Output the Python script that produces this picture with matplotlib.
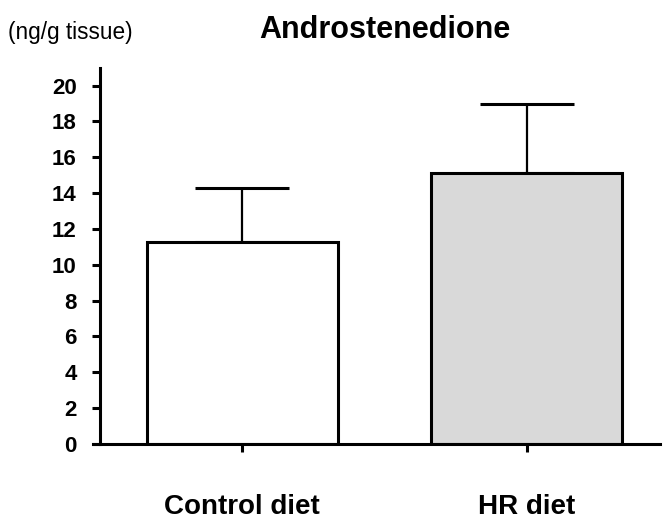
import matplotlib.pyplot as plt

categories = ["Control diet", "HR diet"]
means = [11.25, 15.15]
errors = [3.05, 3.85]
bar_colors = ["white", "#d9d9d9"]
yticks = [0, 2, 4, 6, 8, 10, 12, 14, 16, 18, 20]


def main() -> None:
    plt.rcParams["font.family"] = ["Liberation Sans", "DejaVu Sans"]
    fig = plt.figure(figsize=(6.63, 5.21), dpi=100)
    ax = fig.add_axes([0.151, 0.148, 0.845, 0.722])

    x = list(range(len(categories)))
    ax.bar(x, means, width=0.67, color=bar_colors, edgecolor="black",
           linewidth=2.2, zorder=2)
    ax.errorbar(x, means, yerr=[[0] * len(errors), errors], fmt="none",
                ecolor="black", elinewidth=1.6, capsize=34, capthick=2.2,
                zorder=1)

    ax.set_xlim(-0.5, 1.47)
    ax.set_ylim(0, 21)
    ax.set_yticks(yticks)
    ax.set_xticks(x)
    ax.set_xticklabels(categories, fontsize=20, fontweight="bold")
    for lab in ax.get_yticklabels():
        lab.set_fontweight("bold")
        lab.set_fontsize(16)

    ax.spines["top"].set_visible(False)
    ax.spines["right"].set_visible(False)
    ax.spines["bottom"].set_visible(False)
    ax.spines["left"].set_linewidth(2.2)
    # x axis line runs a little past the y axis on the left
    ax.plot([-0.525, 1.47], [0, 0], color="black", linewidth=2.2,
            clip_on=False, zorder=3)

    ax.tick_params(axis="y", length=6, width=2.2, pad=11)
    ax.tick_params(axis="x", length=6, width=2.2, pad=30)

    fig.text(0.581, 0.942, "Androstenedione", fontsize=22, fontweight="bold",
             ha="center", va="center")
    fig.text(0.012, 0.937, "(ng/g tissue)", fontsize=16.3, ha="left",
             va="center")

    fig.savefig("out.png", dpi=100)


if __name__ == "__main__":
    main()
